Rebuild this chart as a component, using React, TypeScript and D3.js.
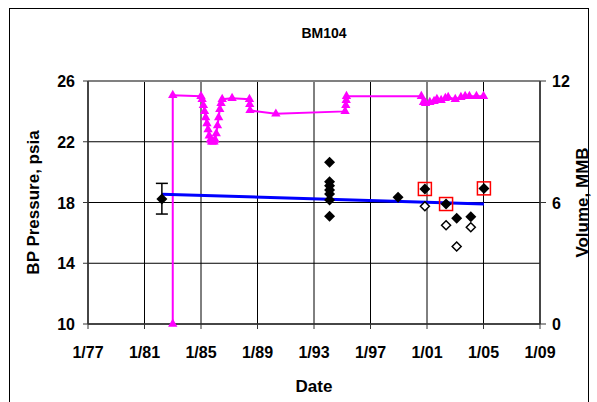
import React from "react";
import * as d3 from "d3";

const xTickYears = [1977, 1981, 1985, 1989, 1993, 1997, 2001, 2005, 2009];
const xTickLabels = ["1/77", "1/81", "1/85", "1/89", "1/93", "1/97", "1/01", "1/05", "1/09"];
const leftTicks = [10, 14, 18, 22, 26];
const rightTicks = [0, 6, 12];

// Volume series (date as decimal year, MMB)
const volDates = [1983.0, 1983.0, 1985.0, 1985.08, 1985.17, 1985.25, 1985.33, 1985.42, 1985.5, 1985.58, 1985.67, 1985.75, 1985.83, 1985.92, 1986.0, 1986.08, 1986.17, 1986.25, 1986.33, 1986.42, 1986.5, 1987.2, 1988.43, 1988.45, 1988.47, 1990.3, 1995.2, 1995.25, 1995.28, 1995.3, 2000.6, 2000.75, 2000.9, 2001.2, 2001.5, 2001.7, 2002.0, 2002.3, 2002.5, 2003.0, 2003.4, 2003.7, 2004.0, 2004.5, 2005.0];
const volValues = [0, 11.3, 11.25, 11.1, 10.8, 10.5, 10.2, 9.9, 9.6, 9.3, 9.1, 9.0, 9.0, 9.0, 9.1, 9.4, 9.8, 10.2, 10.6, 10.9, 11.1, 11.15, 11.1, 10.85, 10.55, 10.38, 10.5, 10.8, 11.05, 11.25, 11.25, 10.95, 10.9, 10.95, 11.0, 11.1, 11.05, 11.15, 11.2, 11.1, 11.2, 11.25, 11.25, 11.25, 11.25];

// BP pressure measurements (filled)
const presDates = [1982.23, 1994.1, 1994.1, 1994.1, 1994.1, 1994.1, 1994.1, 1994.1, 1998.95, 2000.85, 2002.35, 2003.1, 2004.1, 2005.03];
const presValues = [18.23, 20.65, 19.37, 19.1, 18.82, 18.56, 18.17, 17.1, 18.34, 18.89, 17.9, 16.96, 17.06, 18.93];

// Open diamonds
const openDates = [2000.85, 2002.35, 2003.1, 2004.1];
const openValues = [17.75, 16.5, 15.1, 16.37];

// Highlighted (red squares)
const highlightDates = [2000.85, 2002.35, 2005.03];
const highlightValues = [18.89, 17.9, 18.93];

// Error bar
const errDate = 1982.23;
const errLow = 17.24;
const errHigh = 19.26;

// Trend line
const trendDates = [1982.23, 2005.03];
const trendValues = [18.55, 17.9];

export default function App() {
  const W = 597, H = 402;
  const left = 88, right = 540, top = 81, bottom = 324;
  const x = d3.scaleLinear().domain([1977, 2009]).range([left, right]);
  const yL = d3.scaleLinear().domain([10, 26]).range([bottom, top]);
  const yR = d3.scaleLinear().domain([0, 12]).range([bottom, top]);
  const font = "'Liberation Sans', Arial, sans-serif";

  const volLine = d3.line<number>().x((_, i) => x(volDates[i])).y((d) => yR(d))(volValues) || "";
  const trend = d3.line<number>().x((_, i) => x(trendDates[i])).y((d) => yL(d))(trendValues) || "";
  const tri = d3.symbol().type(d3.symbolTriangle).size(38)() || "";
  const dia = (s: number) => `M0,${-s}L${s},0L0,${s}L${-s},0Z`;

  return (
    <svg width={W} height={H} style={{ position: "absolute", left: 0, top: 0, fontFamily: font }}>
      <rect x={0} y={0} width={W} height={H} fill="#fff" />
      <rect x={9.5} y={8.5} width={579} height={420} fill="none" stroke="#000" strokeWidth={1} />
      {/* grid */}
      {xTickYears.map((t) => (
        <line key={"gx" + t} x1={x(t)} x2={x(t)} y1={top} y2={bottom} stroke="#000" strokeWidth={1} />
      ))}
      {leftTicks.map((t) => (
        <line key={"gy" + t} x1={left} x2={right} y1={yL(t)} y2={yL(t)} stroke={t === 26 ? "#808080" : "#000"} strokeWidth={t === 26 ? 2 : 1} />
      ))}
      <line x1={left} x2={left} y1={top} y2={bottom} stroke="#333" strokeWidth={1.5} />
      <line x1={right} x2={right} y1={top} y2={bottom} stroke="#333" strokeWidth={1.5} />
      <line x1={left} x2={right} y1={bottom} y2={bottom} stroke="#333" strokeWidth={1.5} />
      {/* ticks */}
      {leftTicks.map((t) => (
        <g key={"lt" + t}>
          <line x1={left - 5} x2={left} y1={yL(t)} y2={yL(t)} stroke="#333" />
          <text x={left - 13} y={yL(t) + 6} textAnchor="end" fontSize={16} fontWeight="bold">{t}</text>
        </g>
      ))}
      {rightTicks.map((t) => (
        <g key={"rt" + t}>
          <line x1={right} x2={right + 6} y1={yR(t)} y2={yR(t)} stroke="#333" />
          <text x={right + 12} y={yR(t) + 6} textAnchor="start" fontSize={16} fontWeight="bold">{t}</text>
        </g>
      ))}
      {xTickYears.map((t, i) => (
        <g key={"xt" + t}>
          <line x1={x(t)} x2={x(t)} y1={bottom} y2={bottom + 5} stroke="#333" />
          <text x={x(t)} y={358} textAnchor="middle" fontSize={16} fontWeight="bold">{xTickLabels[i]}</text>
        </g>
      ))}
      {/* titles */}
      <text x={324} y={38} textAnchor="middle" fontSize={14} fontWeight="bold">BM104</text>
      <text x={314} y={392} textAnchor="middle" fontSize={17} fontWeight="bold">Date</text>
      <text transform={`translate(39,${(top + bottom) / 2}) rotate(-90)`} textAnchor="middle" fontSize={17} fontWeight="bold">BP Pressure, psia</text>
      <text transform={`translate(588,${(top + bottom) / 2}) rotate(-90)`} textAnchor="middle" fontSize={17} fontWeight="bold">Volume, MMB</text>
      {/* volume series */}
      <path d={volLine} fill="none" stroke="#ff00ff" strokeWidth={2} />
      {volValues.map((v, i) => (
        <path key={"tr" + i} d={tri} transform={`translate(${x(volDates[i])},${yR(v)})`} fill="#ff00ff" />
      ))}
      {/* trend */}
      <path d={trend} fill="none" stroke="#0000ff" strokeWidth={3} />
      {/* error bar */}
      <line x1={x(errDate)} x2={x(errDate)} y1={yL(errLow)} y2={yL(errHigh)} stroke="#000" strokeWidth={1.5} />
      <line x1={x(errDate) - 6} x2={x(errDate) + 6} y1={yL(errLow)} y2={yL(errLow)} stroke="#000" strokeWidth={1.5} />
      <line x1={x(errDate) - 6} x2={x(errDate) + 6} y1={yL(errHigh)} y2={yL(errHigh)} stroke="#000" strokeWidth={1.5} />
      {/* open diamonds */}
      {openValues.map((v, i) => (
        <path key={"od" + i} d={dia(4.5)} transform={`translate(${x(openDates[i])},${yL(v)})`} fill="#fff" stroke="#000" strokeWidth={1.5} />
      ))}
      {/* filled diamonds */}
      {presValues.map((v, i) => (
        <path key={"fd" + i} d={dia(5.5)} transform={`translate(${x(presDates[i])},${yL(v)})`} fill="#000" />
      ))}
      {/* red squares */}
      {highlightValues.map((v, i) => (
        <rect key={"rs" + i} x={x(highlightDates[i]) - 6.5} y={yL(v) - 6.5} width={13} height={13} fill="none" stroke="#ff0000" strokeWidth={1.5} />
      ))}
    </svg>
  );
}
